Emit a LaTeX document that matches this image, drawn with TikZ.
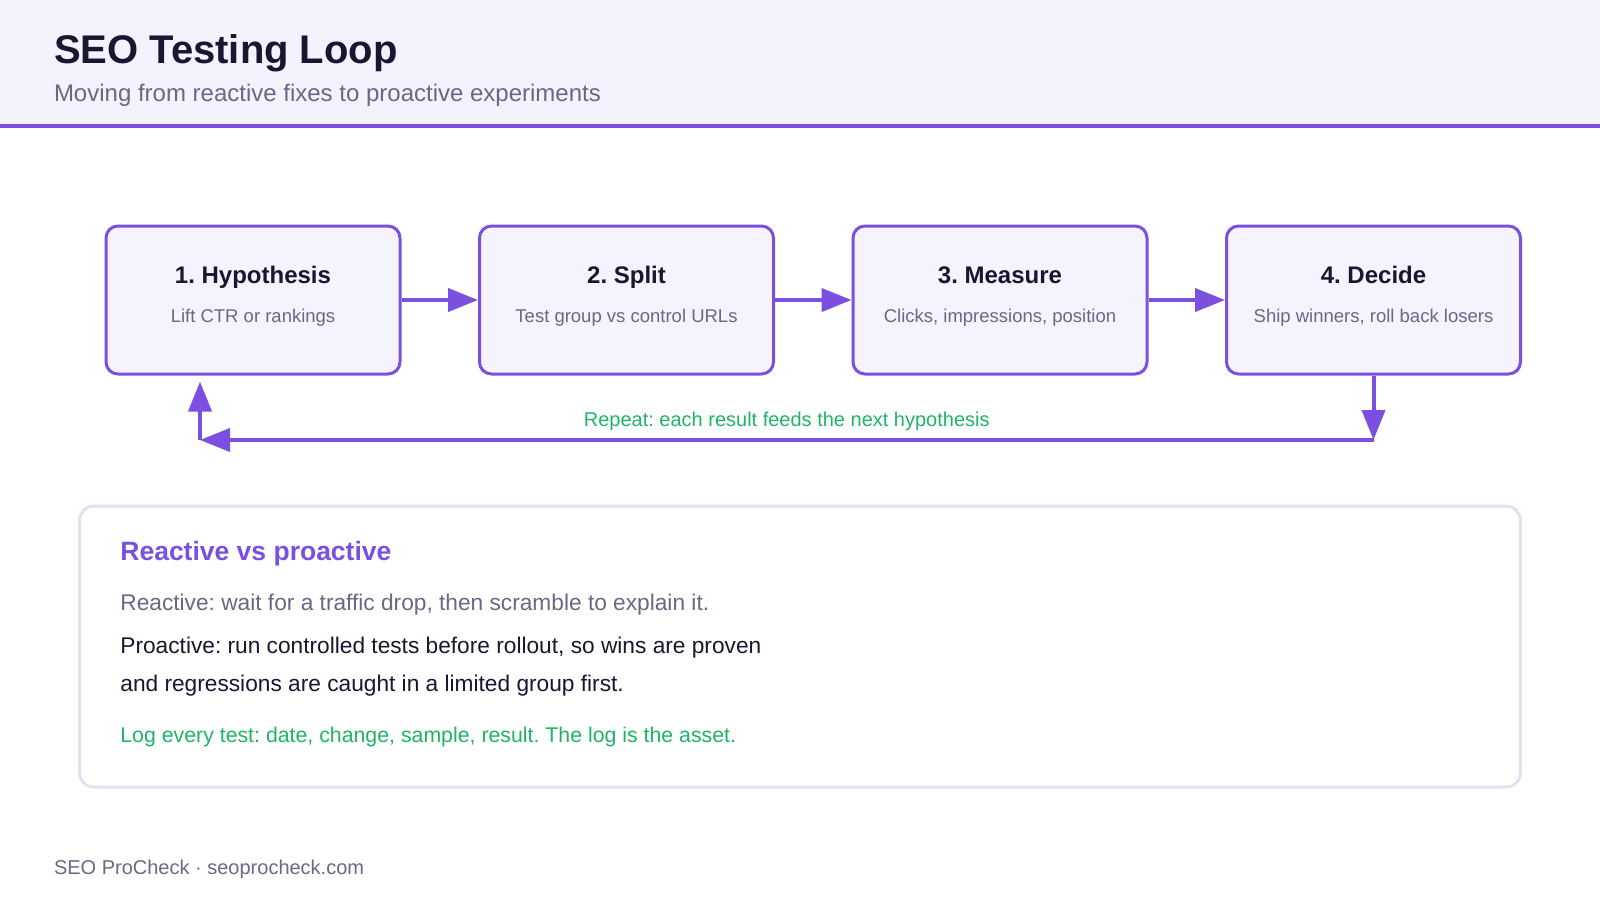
\documentclass[tikz,border=0pt]{standalone}
\usepackage{fontspec}
\setmainfont{Liberation Sans}
\usetikzlibrary{arrows.meta}
\frenchspacing

\definecolor{loopviolet}{HTML}{7B4FDF}
\definecolor{headbg}{HTML}{F4F2FD}
\definecolor{boxbg}{HTML}{F5F3FE}
\definecolor{inkdark}{HTML}{1C1532}
\definecolor{inkgray}{HTML}{6B6784}
\definecolor{okgreen}{HTML}{20B466}
\definecolor{panelrim}{HTML}{E3E1F0}

\tikzset{
  stepbox/.style={draw=loopviolet, line width=3pt, fill=boxbg, rounded corners=12pt,
    minimum width=294pt, minimum height=148pt, inner sep=0pt},
  plain/.style={inner sep=0pt, outer sep=0pt},
  steptitle/.style={plain, anchor=base, text=inkdark, font=\fontsize{24}{28}\selectfont\bfseries},
  stepnote/.style={plain, anchor=base, text=inkgray, font=\fontsize{18.5}{22}\selectfont},
  flow/.style={draw=loopviolet, line width=4pt, -{Triangle[length=30pt, width=23pt]}},
  bodytext/.style={plain, anchor=base west, font=\fontsize{22.7}{27}\selectfont},
}

\begin{document}
\begin{tikzpicture}[x=1pt, y=-1pt]
        \useasboundingbox (0,0) rectangle (1600,900);

        % Kopfzeile
        \fill[headbg] (0,0) rectangle (1600,123.5);
        \fill[loopviolet] (0,123.5) rectangle (1600,127.5);
        \node[plain, anchor=base west, text=inkdark, font=\fontsize{40}{48}\selectfont\bfseries] (title) at (54,63) {SEO Testing Loop};
        \node[plain, anchor=base west, text=inkgray, font=\fontsize{24}{29}\selectfont] (subtitle) at (54,101) {Moving from reactive fixes to proactive experiments};

        % Schritte
        \node[stepbox] (hyp) at (253,300) {};
        \node[stepbox] (split) at (626.5,300) {};
        \node[stepbox] (measure) at (1000,300) {};
        \node[stepbox] (decide) at (1373.5,300) {};

        \node[steptitle] (hyptitle) at (253,283) {1. Hypothesis};
        \node[stepnote] (hypnote) at (253,322) {Lift CTR or rankings};
        \node[steptitle] (splittitle) at (626.5,283) {2. Split};
        \node[stepnote] (splitnote) at (626.5,322) {Test group vs control URLs};
        \node[steptitle] (measuretitle) at (1000,283) {3. Measure};
        \node[stepnote] (measurenote) at (1000,322) {Clicks, impressions, position};
        \node[steptitle] (decidetitle) at (1373.5,283) {4. Decide};
        \node[stepnote] (decidenote) at (1373.5,322) {Ship winners, roll back losers};

        % Pfeile
        \draw[flow] (hyp) -- (split);
        \draw[flow] (split) -- (measure);
        \draw[flow] (measure) -- (decide);

        % Schleife zurueck
        \coordinate (loopR) at (1373.5,440);
        \coordinate (loopL) at (200,440);
        \draw[flow] (decide.south) -- (loopR);
        \draw[flow] (loopR) -- node[plain, anchor=base, yshift=14pt, text=okgreen, font=\fontsize{20}{24}\selectfont] (repeat) {Repeat: each result feeds the next hypothesis} (loopL);
        \draw[flow, shorten >=6pt] (loopL) -- (loopL |- hyp.south);

        % Kasten unten
        \draw[panelrim, line width=3pt, fill=white, rounded corners=14pt] (79.6,506) rectangle (1520.4,787);
        \node[plain, anchor=base west, text=loopviolet, font=\fontsize{26.5}{32}\selectfont\bfseries] (panelhead) at (120.4,560) {Reactive vs proactive};
        \node[bodytext, text=inkgray] (reactive) at (120.4,610) {Reactive: wait for a traffic drop, then scramble to explain it.};
        \node[bodytext, text=inkdark] (proactiveA) at (120.4,653) {Proactive: run controlled tests before rollout, so wins are proven};
        \node[bodytext, text=inkdark] (proactiveB) at (120.4,691) {and regressions are caught in a limited group first.};
        \node[bodytext, text=okgreen, font=\fontsize{21.3}{26}\selectfont] (logline) at (120.4,742) {Log every test: date, change, sample, result. The log is the asset.};

        % Fusszeile
        \node[plain, anchor=base west, text=inkgray, font=\fontsize{20}{24}\selectfont] (footer) at (54,874) {SEO ProCheck · seoprocheck.com};
    \end{tikzpicture}
\end{document}
